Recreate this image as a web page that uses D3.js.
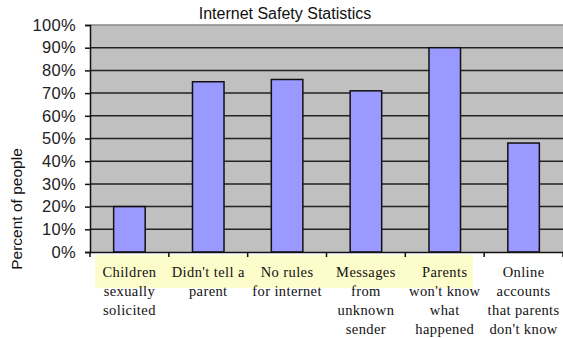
<!DOCTYPE html>
<html><head><meta charset="utf-8">
<script src="https://cdn.jsdelivr.net/npm/d3@7"></script>
<style>body{margin:0;background:#fff}svg{display:block}
.sans{font-family:'Liberation Sans',Arial,sans-serif}</style>
</head><body>
<script>
const categories = ["Children sexually solicited","Didn't tell a parent","No rules for internet","Messages from unknown sender","Parents won't know what happened","Online accounts that parents don't know"];
const labelLines = [["Children","sexually","solicited"],["Didn't tell a","parent"],["No rules","for internet"],["Messages","from","unknown","sender"],["Parents","won't know","what","happened"],["Online","accounts","that parents","don't know"]];
const values = [20, 75, 76, 71, 90, 48];
const yTicks = [0,10,20,30,40,50,60,70,80,90,100];
const title = "Internet Safety Statistics";
const yTitle = "Percent of people";

const W = 563, H = 338;
const m = {left: 90, right: 0, top: 25, bottom: 86};
const svg = d3.select("body").append("svg").attr("width", W).attr("height", H);

// yellow highlight behind labels
svg.append("rect").attr("x", 95).attr("y", 255).attr("width", 378).attr("height", 33).attr("fill", "#fdfccb");

const x = d3.scaleBand().domain(categories).range([m.left, W - m.right]).paddingInner(0.6).paddingOuter(0.3);
const xb = d3.scaleBand().domain(categories).range([m.left, W - m.right]);
const y = d3.scaleLinear().domain([0, 100]).range([H - m.bottom, m.top]);

svg.append("rect").attr("x", m.left).attr("y", m.top).attr("width", W - m.right - m.left).attr("height", y(0) - m.top).attr("fill", "#c0c0c0");

// gridlines
svg.append("g").selectAll("line").data(yTicks.filter(d => d > 0)).join("line")
  .attr("x1", m.left).attr("x2", W - m.right).attr("y1", d => y(d)).attr("y2", d => y(d))
  .attr("stroke", d => d === 100 ? "#888" : "#222").attr("stroke-width", 1.5);

// bars
svg.append("g").selectAll("rect").data(values).join("rect")
  .attr("x", (d, i) => x(categories[i])).attr("width", x.bandwidth())
  .attr("y", d => y(d)).attr("height", d => y(0) - y(d))
  .attr("fill", "#9999ff").attr("stroke", "#111").attr("stroke-width", 1.5);

// y axis
const yAxis = svg.append("g").attr("transform", `translate(${m.left},0)`)
  .call(d3.axisLeft(y).tickValues(yTicks).tickFormat(d => d + "%").tickSize(5).tickPadding(9));
yAxis.attr("font-family", null);
yAxis.select(".domain").attr("stroke", "#111").attr("stroke-width", 1.5);
yAxis.selectAll(".tick line").attr("stroke", "#111").attr("stroke-width", 1.5);
yAxis.selectAll("text").attr("class", "sans").attr("font-size", 16.5).attr("letter-spacing", 0.3).attr("fill", "#222");

// x axis
const xAxis = svg.append("g").attr("transform", `translate(0,${y(0)})`)
  .call(d3.axisBottom(xb).tickValues([]).tickSize(0));
xAxis.select(".domain").attr("stroke", "#111").attr("stroke-width", 1.5);
const bounds = categories.map(c => xb(c)).concat([xb(categories[5]) + xb.bandwidth()]);
svg.append("g").selectAll("line").data(bounds).join("line")
  .attr("x1", d => d).attr("x2", d => d).attr("y1", y(0)).attr("y2", y(0) + 5)
  .attr("stroke", "#111").attr("stroke-width", 1.5);

// category labels
const lab = svg.append("g").attr("fill", "#111").attr("text-anchor", "middle");
labelLines.forEach((lines, i) => {
  const cx = xb(categories[i]) + xb.bandwidth() / 2;
  lines.forEach((t, j) => {
    lab.append("text").attr("x", cx).attr("y", 277 + j * 19)
      .style("font-family", "'Liberation Serif', 'DejaVu Serif', 'Noto Serif', 'Times New Roman', Times, serif")
      .style("font-size", "14.5px").style("letter-spacing", "0.4px").text(t);
  });
});

// title
svg.append("text").attr("class", "sans").attr("x", 285).attr("y", 19).attr("text-anchor", "middle")
  .attr("font-size", 16).attr("fill", "#111").text(title);

// y title
svg.append("text").attr("class", "sans").attr("transform", "translate(22,209) rotate(-90)").attr("text-anchor", "middle")
  .attr("font-size", 15.5).attr("fill", "#111").text(yTitle);
</script>
</body></html>
